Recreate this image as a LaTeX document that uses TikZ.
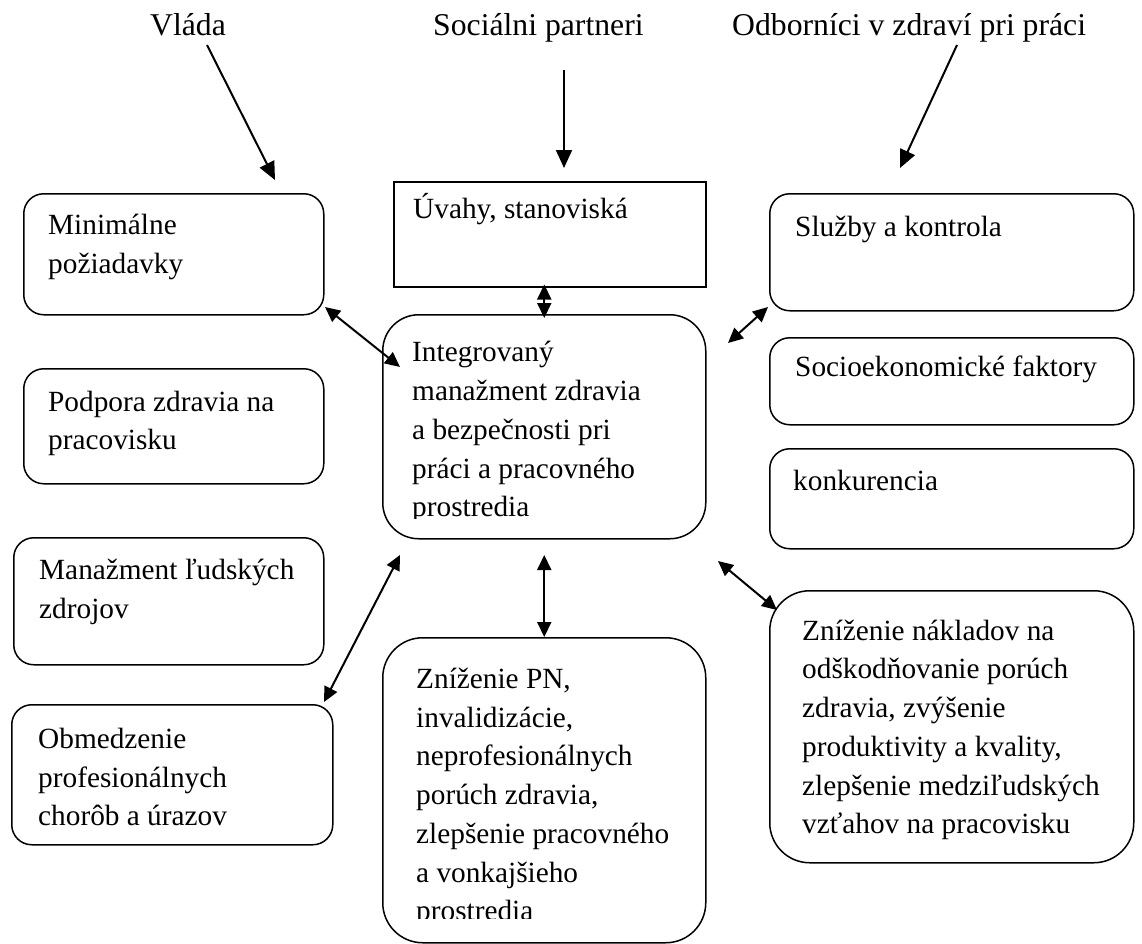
\documentclass[tikz,border=0pt]{standalone}
\usepackage{fontspec}
\setmainfont{Liberation Serif}
\usetikzlibrary{arrows.meta}

\tikzset{
  box/.style={draw, line width=1.5pt, rounded corners=20pt, anchor=north west, inner sep=0pt},
  txt/.style={anchor=north west, inner sep=0pt, align=left, font=\fontsize{29.3}{38.7}\selectfont},
  head/.style={anchor=base west, inner sep=0pt, font=\fontsize{31.7}{37}\selectfont},
  arr/.style={line width=2pt, -{Triangle[length=18pt,width=16pt]}},
  darr/.style={line width=2pt, {Triangle[length=15pt,width=14pt]}-{Triangle[length=15pt,width=14pt]}}
}

\begin{document}
\begin{tikzpicture}[x=1pt, y=-1pt]
  \useasboundingbox (0,0) rectangle (1142,943);

  % headings
  \node[head] (vlada) at (150,35) {Vláda};
  \node[head] (social) at (433,35) {Sociálni partneri};
  \node[head] (odbor) at (732,35) {Odborníci v zdraví pri práci};

  % left column
  \node[box, minimum width=300pt, minimum height=121pt] (minim) at (23,193) {};
  \node[txt] (minimT) at (48,207.2) {\strut Minimálne\\požiadavky};
  \node[box, minimum width=300pt, minimum height=115pt] (podpora) at (23,368) {};
  \node[txt] (podporaT) at (48,383.9) {\strut Podpora zdravia na\\pracovisku};
  \node[box, minimum width=310pt, minimum height=127pt] (manaz) at (13,537) {};
  \node[txt] (manazT) at (39,552.2) {\strut Manažment ľudských\\zdrojov};
  \node[box, minimum width=321pt, minimum height=140pt] (obmedz) at (11,704) {};
  \node[txt] (obmedzT) at (38,721.2) {\strut Obmedzenie\\profesionálnych\\chorôb a úrazov};

  % middle column
  \node[box, sharp corners, minimum width=312pt, minimum height=105pt] (uvahy) at (393,181) {};
  \node[txt] (uvahyT) at (413,191.2) {\strut Úvahy, stanoviská};
  \node[box, rounded corners=36pt, minimum width=323pt, minimum height=224pt] (integ) at (382,314) {};
  \begin{scope}
    \clip (382,314) rectangle (705,518);
    \node[txt] (integT) at (412,334.6) {\strut Integrovaný\\manažment zdravia\\a bezpečnosti pri\\práci a pracovného\\prostredia};
  \end{scope}
  \node[box, rounded corners=40pt, minimum width=323pt, minimum height=305pt] (znizPN) at (382,637) {};
  \begin{scope}
    \clip (382,637) rectangle (705,918);
    \node[txt] (znizPNT) at (416,661.2) {\strut Zníženie PN,\\invalidizácie,\\neprofesionálnych\\porúch zdravia,\\zlepšenie pracovného\\a vonkajšieho\\prostredia};
  \end{scope}

  % right column
  \node[box, minimum width=364pt, minimum height=117pt] (sluzby) at (769,193) {};
  \node[txt] (sluzbyT) at (795,208.9) {\strut Služby a kontrola};
  \node[box, minimum width=364pt, minimum height=87pt] (socio) at (769,337) {};
  \node[txt] (socioT) at (795,348.9) {\strut Socioekonomické faktory};
  \node[box, minimum width=364pt, minimum height=100pt] (konk) at (769,448) {};
  \node[txt] (konkT) at (793,462.9) {\strut konkurencia};
  \node[box, rounded corners=40pt, minimum width=364pt, minimum height=272pt] (znizNak) at (769,590) {};
  \node[txt] (znizNakT) at (802,612.9) {\strut Zníženie nákladov na\\odškodňovanie porúch\\zdravia, zvýšenie\\produktivity a kvality,\\zlepšenie medziľudských\\vzťahov na pracovisku};

  % arrow ends
  \coordinate (vladaA) at (207,45);
  \coordinate (vladaB) at (275,180);
  \coordinate (socialA) at (564,70);
  \coordinate (socialB) at (564,168);
  \coordinate (odborA) at (957,45);
  \coordinate (odborB) at (900,168);
  \coordinate (minimE) at (325,307);
  \coordinate (integNW) at (400,367);
  \coordinate (integNE) at (728,343);
  \coordinate (sluzbyE) at (768,307);
  \coordinate (integSW) at (400,555);
  \coordinate (obmedzE) at (324,702);
  \coordinate (integS) at (543,555);
  \coordinate (integSE) at (718,561);
  \coordinate (znizNakE) at (777,610);

  % inputs from the top
  \draw[arr] (vladaA) -- (vladaB);
  \draw[arr] (socialA) -- (socialB);
  \draw[arr] (odborA) -- (odborB);

  % links to the centre
  \draw[darr, shorten <=-3pt, shorten >=-4pt] (integ.north |- uvahy.south) -- (integ.north);
  \draw[darr] (minimE) -- (integNW);
  \draw[darr] (integNE) -- (sluzbyE);
  \draw[darr] (obmedzE) -- (integSW);
  \draw[darr] (znizPN.north |- integS) -- (znizPN.north);
  \draw[darr] (integSE) -- (znizNakE);
\end{tikzpicture}
\end{document}
